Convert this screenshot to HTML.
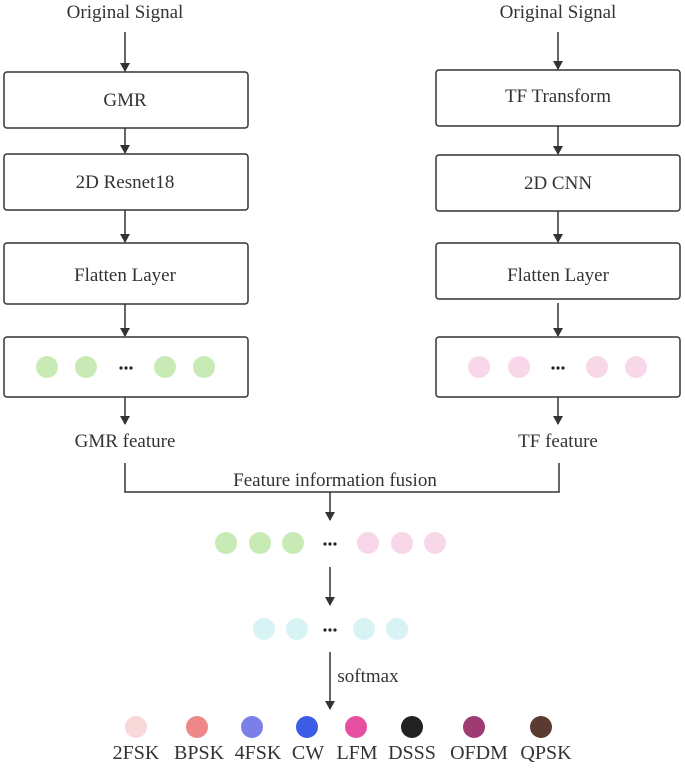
<!DOCTYPE html>
<html><head><style>
body{margin:0;background:#fff;}
svg text{font-family:"Liberation Serif",serif;fill:#333;}
</style></head><body>
<svg width="685" height="765" viewBox="0 0 685 765" xmlns="http://www.w3.org/2000/svg">
<defs><marker id="a" markerWidth="10" markerHeight="10" refX="8" refY="5" orient="auto" markerUnits="userSpaceOnUse"><path d="M0,0 L9,5 L0,10 z" fill="#333"/></marker></defs>
<g stroke="#333" stroke-width="1.5" fill="none">
<rect x="4" y="72" width="244" height="56" rx="3"/>
<rect x="4" y="154" width="244" height="56" rx="3"/>
<rect x="4" y="243" width="244" height="61" rx="3"/>
<rect x="4" y="337" width="244" height="60" rx="3"/>
<rect x="436" y="70" width="244" height="56" rx="3"/>
<rect x="436" y="155" width="244" height="56" rx="3"/>
<rect x="436" y="243" width="244" height="56" rx="3"/>
<rect x="436" y="337" width="244" height="60" rx="3"/>
</g>
<g stroke="#333" stroke-width="1.5" marker-end="url(#a)">
<line x1="125" y1="32" x2="125" y2="71"/>
<line x1="125" y1="128" x2="125" y2="153"/>
<line x1="125" y1="210" x2="125" y2="242"/>
<line x1="125" y1="304" x2="125" y2="336"/>
<line x1="125" y1="397" x2="125" y2="424"/>
<line x1="558" y1="32" x2="558" y2="69"/>
<line x1="558" y1="126" x2="558" y2="154"/>
<line x1="558" y1="211" x2="558" y2="242"/>
<line x1="558" y1="303" x2="558" y2="336"/>
<line x1="558" y1="397" x2="558" y2="424"/>
<line x1="330" y1="492" x2="330" y2="520"/>
<line x1="330" y1="567" x2="330" y2="605"/>
<line x1="330" y1="652" x2="330" y2="709"/>
</g>
<polyline points="125,463 125,492 559,492 559,463" fill="none" stroke="#333" stroke-width="1.5"/>
<g font-size="19" text-anchor="middle">
<text x="125" y="18">Original Signal</text>
<text x="558" y="18">Original Signal</text>
<text x="125" y="106">GMR</text>
<text x="125" y="188">2D Resnet18</text>
<text x="125" y="281">Flatten Layer</text>
<text x="558" y="102">TF Transform</text>
<text x="558" y="189">2D CNN</text>
<text x="558" y="281">Flatten Layer</text>
<text x="125" y="447">GMR feature</text>
<text x="558" y="447">TF feature</text>
<text x="335" y="486">Feature information fusion</text>
<text x="368" y="682">softmax</text>
</g>
<g font-size="20" text-anchor="middle">
<text x="136" y="759">2FSK</text><text x="199" y="759">BPSK</text><text x="258" y="759">4FSK</text><text x="308" y="759">CW</text><text x="357" y="759">LFM</text><text x="412" y="759">DSSS</text><text x="479" y="759">OFDM</text><text x="546" y="759">QPSK</text>
</g>
<g fill="#c8eab5">
<ellipse cx="47" cy="367" rx="11" ry="11"/><ellipse cx="86" cy="367" rx="11" ry="11"/><ellipse cx="165" cy="367" rx="11" ry="11"/><ellipse cx="204" cy="367" rx="11" ry="11"/>
<circle cx="226" cy="543" r="11"/><circle cx="260" cy="543" r="11"/><circle cx="293" cy="543" r="11"/>
</g>
<g fill="#f8d8e8">
<ellipse cx="479" cy="367" rx="11" ry="11"/><ellipse cx="519" cy="367" rx="11" ry="11"/><ellipse cx="597" cy="367" rx="11" ry="11"/><ellipse cx="636" cy="367" rx="11" ry="11"/>
<circle cx="368" cy="543" r="11"/><circle cx="402" cy="543" r="11"/><circle cx="435" cy="543" r="11"/>
</g>
<g fill="#d8f3f3">
<circle cx="264" cy="629" r="11"/><circle cx="297" cy="629" r="11"/><circle cx="364" cy="629" r="11"/><circle cx="397" cy="629" r="11"/>
</g>
<g fill="#222">
<circle cx="121" cy="368" r="1.6"/><circle cx="126" cy="368" r="1.6"/><circle cx="131" cy="368" r="1.6"/>
<circle cx="553" cy="368" r="1.6"/><circle cx="558" cy="368" r="1.6"/><circle cx="563" cy="368" r="1.6"/>
<circle cx="325" cy="544" r="1.6"/><circle cx="330" cy="544" r="1.6"/><circle cx="335" cy="544" r="1.6"/>
<circle cx="325" cy="630" r="1.6"/><circle cx="330" cy="630" r="1.6"/><circle cx="335" cy="630" r="1.6"/>
</g>
<circle cx="136" cy="727" r="11" fill="#f8d8d8"/>
<circle cx="197" cy="727" r="11" fill="#ee8888"/>
<circle cx="252" cy="727" r="11" fill="#7b80e8"/>
<circle cx="307" cy="727" r="11" fill="#3d5ce6"/>
<circle cx="356" cy="727" r="11" fill="#e64ea0"/>
<circle cx="412" cy="727" r="11" fill="#222"/>
<circle cx="474" cy="727" r="11" fill="#9e3b72"/>
<circle cx="541" cy="727" r="11" fill="#5b3a30"/>
</svg>
</body></html>
